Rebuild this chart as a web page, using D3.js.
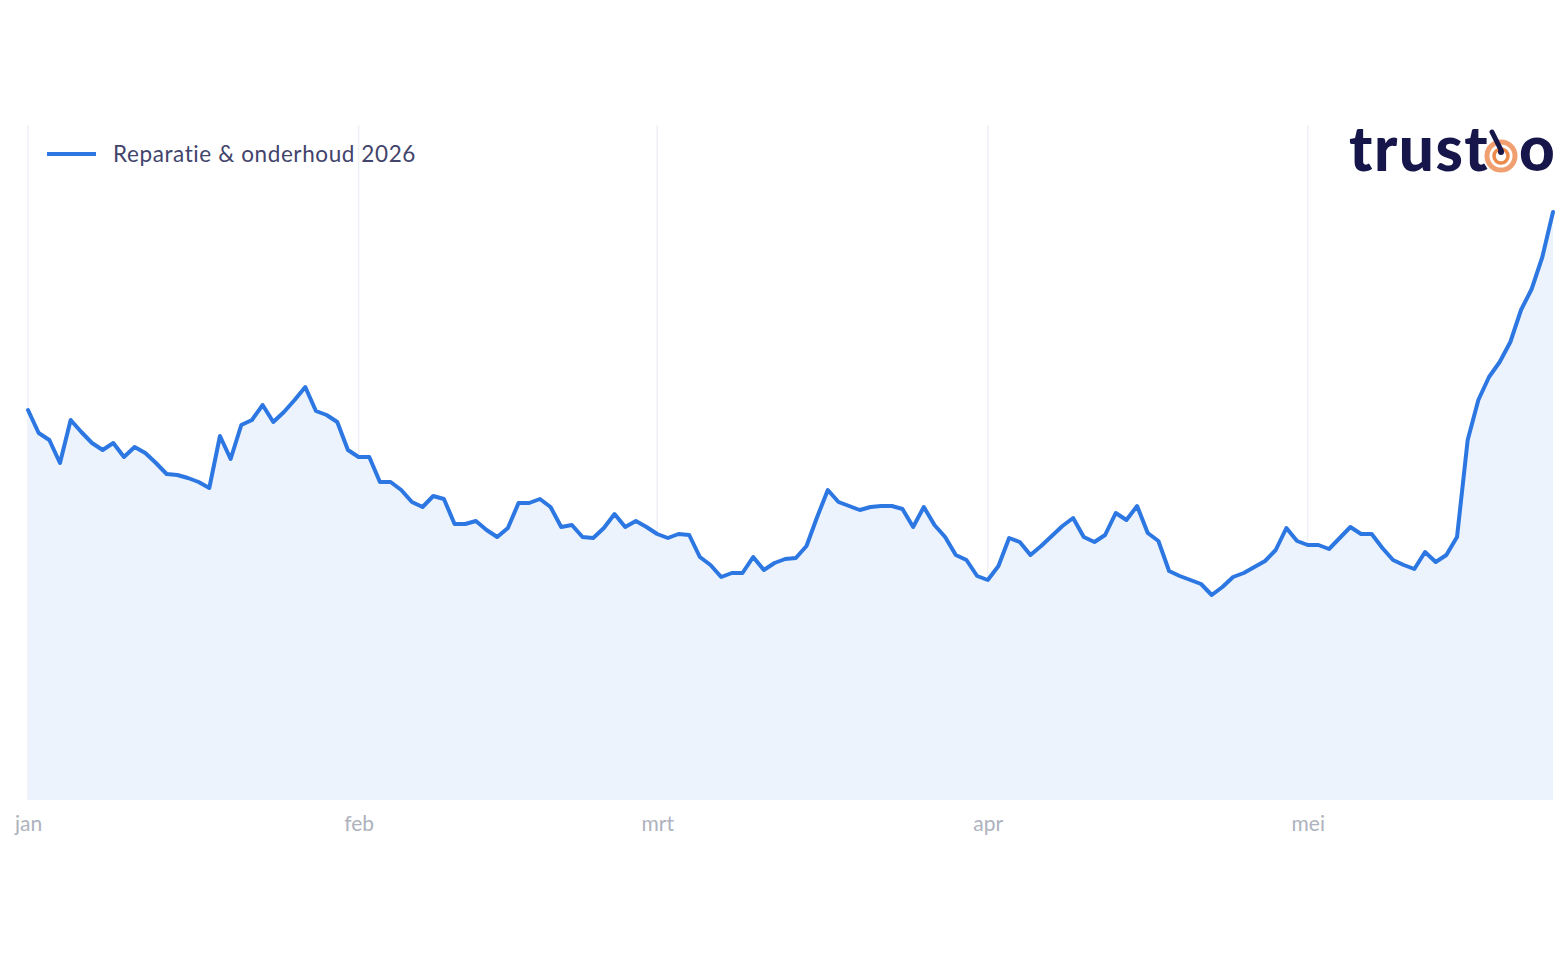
<!DOCTYPE html>
<html>
<head>
<meta charset="utf-8">
<script src="https://cdn.jsdelivr.net/npm/d3@7"></script>
<style>
  html, body { margin: 0; padding: 0; background: #ffffff; }
  svg { display: block; }
</style>
</head>
<body>
<svg id="chart" width="1568" height="960"></svg>
<script>
// ---- data ----
const startDate = "2026-01-01";
const seriesName = "Reparatie & onderhoud 2026";
const monthLabels = ["jan", "feb", "mrt", "apr", "mei"];
const monthStarts = ["2026-01-01", "2026-02-01", "2026-03-01", "2026-04-01", "2026-05-01"];
// daily values (relative index), 1 Jan – 24 May 2026
const values = [
  390, 367, 360, 337, 380, 368, 357, 350, 357, 343,
  353, 347, 337, 326, 325, 322, 318, 312, 364, 341,
  375, 380, 395, 378, 388, 400, 413, 389, 385, 378,
  350, 343, 343, 318, 318, 310, 298, 293, 304, 301,
  276, 276, 279, 270, 263, 272, 297, 297, 301, 293,
  273, 275, 263, 262, 272, 286, 273, 279, 273, 266,
  262, 266, 265, 243, 235, 223, 227, 227, 243, 230,
  237, 241, 242, 254, 283, 310, 298, 294, 290, 293,
  294, 294, 291, 273, 293, 275, 263, 245, 240, 224,
  220, 234, 262, 258, 245, 254, 264, 274, 282, 263,
  258, 265, 287, 280, 294, 267, 259, 229, 224, 220,
  216, 205, 213, 223, 227, 233, 239, 250, 272, 259,
  255, 255, 251, 262, 273, 266, 266, 252, 240, 235,
  231, 248, 238, 245, 263, 360, 400, 423, 438, 458,
  490, 511, 543, 588
];
const yMax = 600;

// ---- build ----
const parse = d3.utcParse("%Y-%m-%d");
const t0 = parse(startDate);
const data = values.map((v, i) => ({ date: d3.utcDay.offset(t0, i), value: v }));

const svg = d3.select("#chart");
const plot = { left: 28, right: 1553, top: 125, bottom: 800 };

const x = d3.scaleUtc()
  .domain([t0, data[data.length - 1].date])
  .range([plot.left, plot.right]);
const y = d3.scaleLinear()
  .domain([0, yMax])
  .range([plot.bottom, plot.bottom - 600]);

// vertical month gridlines
const ticks = monthStarts.map(parse);
svg.append("g")
  .selectAll("line")
  .data(ticks)
  .join("line")
  .attr("x1", d => x(d)).attr("x2", d => x(d))
  .attr("y1", plot.top).attr("y2", plot.bottom)
  .attr("stroke", "#eef0f6")
  .attr("stroke-width", 1.5);

// area
svg.append("path")
  .datum(data)
  .attr("fill", "#ecf2fd")
  .attr("fill-opacity", 0.92)
  .attr("d", d3.area().x(d => x(d.date)).y0(y(0)).y1(d => y(d.value)));

// line
svg.append("path")
  .datum(data)
  .attr("fill", "none")
  .attr("stroke", "#2c77e2")
  .attr("stroke-width", 4)
  .attr("stroke-linejoin", "round")
  .attr("stroke-linecap", "round")
  .attr("d", d3.line().x(d => x(d.date)).y(d => y(d.value)));

// x axis
const xAxis = d3.axisBottom(x)
  .tickValues(ticks)
  .tickFormat((d, i) => monthLabels[i])
  .tickSize(0)
  .tickPadding(16);
const gx = svg.append("g")
  .attr("transform", `translate(0,${plot.bottom})`)
  .call(xAxis);
gx.select(".domain").remove();
gx.selectAll("text")
  .attr("fill", "#aeb2bd")
  .attr("font-family", "Lato, 'Noto Sans', sans-serif")
  .attr("font-size", 21);

// legend
const lg = svg.append("g");
lg.append("line")
  .attr("x1", 47).attr("x2", 96).attr("y1", 154).attr("y2", 154)
  .attr("stroke", "#2c77e2").attr("stroke-width", 4);
lg.append("text")
  .attr("x", 113).attr("y", 162)
  .attr("fill", "#42446c")
  .attr("font-family", "Lato, 'Noto Sans', sans-serif")
  .attr("font-size", 22.5)
  .attr("letter-spacing", 0.6)
  .text(seriesName);

// logo
const logo = svg.append("g");
logo.append("text")
  .attr("x", 1349).attr("y", 171)
  .attr("fill", "#16164a")
  .attr("font-family", "Lato, sans-serif")
  .attr("font-weight", 900)
  .attr("font-size", 62)
  .attr("letter-spacing", 1.5)
  .text("trust");
const cx = 1501, cy = 156;
logo.append("circle").attr("cx", cx).attr("cy", cy).attr("r", 14)
  .attr("fill", "none").attr("stroke", "#f0a070").attr("stroke-width", 5);
logo.append("circle").attr("cx", cx).attr("cy", cy).attr("r", 7)
  .attr("fill", "none").attr("stroke", "#ec8a4c").attr("stroke-width", 3.5);
logo.append("line").attr("x1", 1492).attr("y1", 132).attr("x2", cx).attr("y2", cy - 6)
  .attr("stroke", "#16164a").attr("stroke-width", 5).attr("stroke-linecap", "round");
logo.append("circle").attr("cx", cx).attr("cy", cy - 4).attr("r", 3).attr("fill", "#16164a");
logo.append("text")
  .attr("x", 1519).attr("y", 171)
  .attr("fill", "#16164a")
  .attr("font-family", "Lato, sans-serif")
  .attr("font-weight", 900)
  .attr("font-size", 62)
  .text("o");
</script>
</body>
</html>
